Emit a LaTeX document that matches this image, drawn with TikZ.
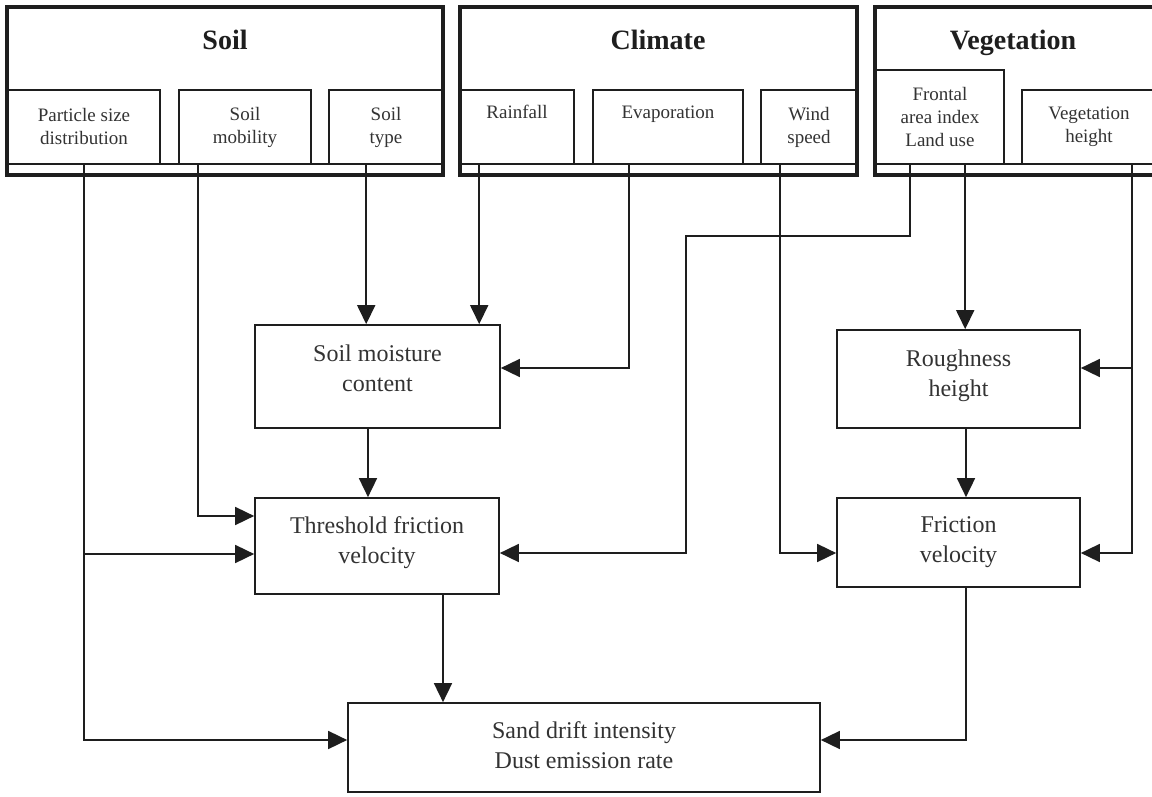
\documentclass[tikz,border=0pt]{standalone}
\usepackage{fontspec}
\setmainfont{Liberation Serif}
\usetikzlibrary{arrows.meta,calc}
\definecolor{ink}{HTML}{1E1E1E}
\definecolor{txt}{HTML}{333333}
\tikzset{
  outerbox/.style={draw=ink,line width=3.2pt,rectangle,inner sep=0pt},
  titletext/.style={text=ink,font=\fontsize{28}{34}\selectfont\bfseries,inner sep=0pt,anchor=base},
  subbox/.style={draw=ink,line width=1.6pt,rectangle,inner sep=0pt,align=center,text=txt,font=\fontsize{19}{23}\selectfont},
  mainbox/.style={draw=ink,line width=1.7pt,rectangle,inner sep=0pt},
  maintext/.style={inner sep=0pt,align=center,text=txt,font=\fontsize{24}{30}\selectfont},
  conn/.style={draw=ink,line width=1.7pt},
  arr/.style={conn,-{Triangle[length=19pt,width=18pt]}}
}
\begin{document}
\begin{tikzpicture}[x=1pt,y=-1pt]
\useasboundingbox (0,0) rectangle (1152,797);
\clip (0,0) rectangle (1152,797);
\fill[white] (0,0) rectangle (1152,797);
% outer groups
\node[outerbox,minimum width=436,minimum height=168] (soil) at (225,91) {};
\node[outerbox,minimum width=397,minimum height=168] (clim) at (658.5,91) {};
\node[outerbox,minimum width=285,minimum height=168] (veg) at (1017.5,91) {};
\draw[conn] (soil.west |- 0,164) -- (soil.east |- 0,164);
\draw[conn] (clim.west |- 0,164) -- (clim.east |- 0,164);
\draw[conn] (veg.west |- 0,164) -- (veg.east |- 0,164);
\node[titletext] (soilT) at (225,50) {Soil};
\node[titletext] (climT) at (658,50) {Climate};
\node[titletext] (vegT) at (1013,50) {Vegetation};
% sub boxes
\node[subbox,minimum width=152,minimum height=74] (psd) at (84,127) {Particle size\\distribution};
\node[subbox,minimum width=132,minimum height=74] (sm) at (245,127) {Soil\\mobility};
\node[subbox,minimum width=114,minimum height=74] (st) at (386,127) {Soil\\type};
\node[subbox,minimum width=114,minimum height=74] (rain) at (517,127) {Rainfall\\\strut};
\node[subbox,minimum width=150,minimum height=74] (evap) at (668,127) {Evaporation\\\strut};
\node[subbox,minimum width=96,minimum height=74] (wind) at (809,127) {Wind\\speed};
\node[subbox,minimum width=128,minimum height=94] (fai) at (940,117) {Frontal\\area index\\Land use};
\node[subbox,minimum width=134,minimum height=74] (vh) at (1089,127) {Vegetation\\height};
% main boxes
\node[mainbox,minimum width=245,minimum height=103] (smc) at (377.5,376.5) {};
\node[maintext] (smcT) at ([yshift=8pt]smc.center) {Soil moisture\\content};
\node[mainbox,minimum width=244,minimum height=96] (tfv) at (377,546) {};
\node[maintext] (tfvT) at ([yshift=3pt]tfv.center) {Threshold friction\\velocity};
\node[mainbox,minimum width=472,minimum height=89] (sdi) at (584,747.5) {};
\node[maintext] (sdiT) at ([yshift=2pt]sdi.center) {Sand drift intensity\\Dust emission rate};
\node[mainbox,minimum width=243,minimum height=98] (rh) at (958.5,379) {};
\node[maintext] (rhT) at ([yshift=3pt]rh.center) {Roughness\\height};
\node[mainbox,minimum width=243,minimum height=89] (fv) at (958.5,542.5) {};
\node[maintext] (fvT) at (fv.center) {Friction\\velocity};
% connectors
\draw[arr] (psd.south) |- ([yshift=7.5pt]sdi.west);
\draw[arr] ([yshift=-8pt]tfv.west -| psd.south) -- ([yshift=-8pt]tfv.west);
\draw[arr] ([xshift=20pt]sm.south west) |- ([yshift=30pt]tfv.west);
\draw[arr] ([xshift=38pt]st.south west) -- ([xshift=38pt]st.south west |- smc.north);
\draw[arr] ([xshift=20pt]rain.south west) -- ([xshift=20pt]rain.south west |- smc.north);
\draw[arr] ([xshift=37pt]evap.south west) |- ([yshift=8.5pt]smc.east);
\draw[arr] ([xshift=-9.5pt]smc.south) -- ([xshift=-9.5pt]smc.south |- tfv.north);
\draw[arr] ([xshift=20pt]wind.south west) |- ([yshift=-10.5pt]fv.west);
\coordinate (kink) at (686,236);
\draw[arr] ([xshift=35pt]fai.south west) |- (kink) |- ([yshift=-7pt]tfv.east);
\draw[arr] ([xshift=90pt]fai.south west) -- ([xshift=90pt]fai.south west |- rh.north);
\coordinate (vhx) at ([xshift=111pt]vh.south west);
\draw[arr] (vhx) |- ([yshift=-10.5pt]fv.east);
\draw[arr] ([yshift=11pt]rh.east -| vhx) -- ([yshift=11pt]rh.east);
\draw[arr] ([xshift=7.5pt]rh.south) -- ([xshift=7.5pt]rh.south |- fv.north);
\draw[arr] ([xshift=66pt]tfv.south) -- ([xshift=66pt]tfv.south |- sdi.north);
\draw[arr] ([xshift=7.5pt]fv.south) |- ([yshift=7.5pt]sdi.east);
\end{tikzpicture}
\end{document}
